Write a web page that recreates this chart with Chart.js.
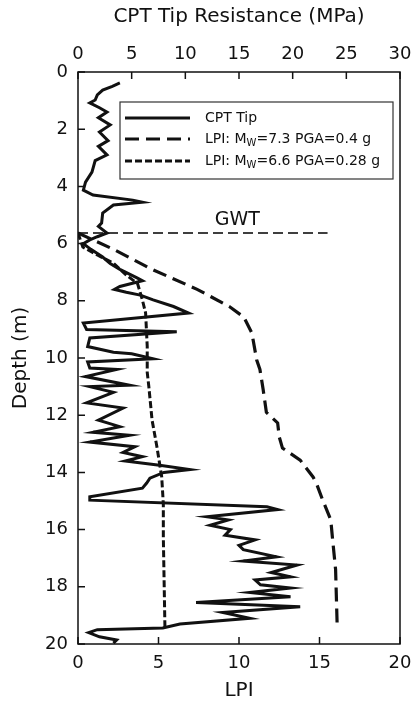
<!DOCTYPE html>
<html>
<head>
<meta charset="utf-8">
<script src="https://cdn.jsdelivr.net/npm/chart.js@4.4.1/dist/chart.umd.min.js"></script>
<style>
  html, body { margin: 0; padding: 0; background: #fff; }
  #wrap { width: 412px; height: 708px; }
</style>
</head>
<body>
<div id="wrap"><canvas id="cptChart"></canvas></div>
<script>
// CPT sounding: depth (m) vs tip resistance (MPa), in trace order
const cptDepth = [0.38, 0.5, 0.63, 0.8, 0.98, 1.08, 1.25, 1.4, 1.6, 1.85, 2.1, 2.4, 2.6, 2.9, 3.1, 3.5, 3.85, 4.13,
  4.3, 4.48, 4.55, 4.65, 4.93, 5.28, 5.4, 5.63, 5.76, 5.87, 6.0, 6.2, 6.47, 6.7, 6.9, 7.2, 7.3, 7.5, 7.6, 7.7, 7.8,
  7.97, 8.2, 8.43, 8.78, 9.0, 9.08, 9.3, 9.6, 9.8, 9.85, 10.03, 10.14, 10.35, 10.4, 10.65, 10.95, 11.0, 11.2, 11.57,
  11.75, 12.17, 12.4, 12.6, 12.7, 12.94, 13.1, 13.3, 13.45, 13.6, 13.75, 13.9, 14.0, 14.2, 14.37, 14.55, 14.85, 14.97,
  15.2, 15.3, 15.55, 15.66, 15.85, 16.0, 16.2, 16.36, 16.55, 16.7, 16.95, 17.1, 17.24, 17.5, 17.65, 17.76, 17.93,
  18.04, 18.2, 18.35, 18.55, 18.7, 18.9, 19.1, 19.3, 19.44, 19.5, 19.6, 19.75, 19.86, 19.97];
const cptTip = [3.9, 3.2, 2.3, 1.8, 1.6, 1.1, 2.0, 2.7, 1.9, 3.0, 2.0, 2.8, 1.9, 2.7, 1.6, 1.3, 0.7, 0.5,
  1.4, 5.1, 6.0, 3.3, 2.3, 2.2, 1.9, 2.7, 1.8, 1.1, 0.5, 1.2, 2.3, 3.0, 3.9, 5.5, 6.0, 3.9, 3.4, 4.5, 5.8,
  7.0, 8.9, 10.3, 0.5, 0.8, 9.2, 1.1, 0.9, 3.3, 5.0, 7.0, 0.9, 1.1, 3.6, 0.7, 4.8, 1.1, 3.3, 0.8,
  4.2, 1.9, 3.9, 1.4, 4.8, 1.1, 5.3, 4.2, 6.0, 4.4, 7.6, 10.4, 8.0, 6.7, 6.4, 6.0, 1.1, 1.1,
  17.6, 18.6, 12.0, 14.0, 12.3, 14.2, 13.7, 16.5, 15.0, 15.4, 18.5, 15.4, 20.4, 18.0, 19.8, 16.5, 17.0,
  19.8, 16.0, 19.8, 11.0, 20.7, 13.5, 16.0, 9.5, 7.9, 1.8, 1.0, 2.0, 3.6, 3.3];

// LPI profile, Mw 7.3, PGA 0.4 g
const lpiDepthA = [5.63, 6.2, 6.9, 7.6, 8.2, 8.57, 9.13, 10.07, 10.4, 11.1, 11.9, 12.27, 12.76, 13.15, 13.57,
  14.16, 14.37, 14.97, 15.66, 16.26, 17.4, 19.4];
const lpiA = [0, 2.2, 4.6, 7.4, 9.4, 10.3, 10.8, 11.1, 11.3, 11.5, 11.7, 12.4, 12.5, 12.7, 13.8,
  14.6, 14.8, 15.2, 15.7, 15.8, 16.0, 16.1];

// LPI profile, Mw 6.6, PGA 0.28 g
const lpiDepthB = [5.63, 6.12, 6.4, 6.68, 7.1, 7.4, 7.97, 8.43, 9.6, 10.5, 11.0, 12.17, 13.1, 13.45, 14.16, 15.1, 16.26, 19.44];
const lpiB = [0, 0.3, 1.2, 2.2, 3.0, 3.7, 4.0, 4.2, 4.3, 4.3, 4.4, 4.6, 4.9, 5.0, 5.2, 5.3, 5.3, 5.4];

// ground water table
const gwtDepth = 5.63;
const gwtSpan = [0, 15.5];

const legendLabels = [
  ['CPT Tip'],
  ['LPI: M', 'W', '=7.3 PGA=0.4 g'],
  ['LPI: M', 'W', '=6.6 PGA=0.28 g']
];

const FONT = '"DejaVu Sans", "Liberation Sans", Arial, sans-serif';
const INK = '#111';

const pts = (xs, ys) => xs.map((x, i) => ({ x: x, y: ys[i] }));

const lineStyles = [
  { width: 3, dash: [] },
  { width: 3.2, dash: [14, 7] },
  { width: 3, dash: [7, 3] }
];

// frame, inward ticks, legend and GWT label
const decorPlugin = {
  id: 'decor',
  afterDatasetsDraw(chart) {
    const { ctx, chartArea: a, scales } = chart;
    ctx.save();
    ctx.strokeStyle = INK;
    ctx.lineWidth = 1.5;
    ctx.setLineDash([]);
    ctx.strokeRect(a.left, a.top, a.right - a.left, a.bottom - a.top);

    const len = 7;
    ctx.beginPath();
    scales.x.ticks.forEach(t => {
      const px = scales.x.getPixelForValue(t.value);
      ctx.moveTo(px, a.bottom); ctx.lineTo(px, a.bottom - len);
    });
    scales.x2.ticks.forEach(t => {
      const px = scales.x2.getPixelForValue(t.value);
      ctx.moveTo(px, a.top); ctx.lineTo(px, a.top + len);
    });
    scales.y.ticks.forEach(t => {
      const py = scales.y.getPixelForValue(t.value);
      ctx.moveTo(a.left, py); ctx.lineTo(a.left + len, py);
    });
    ctx.stroke();

    // GWT label
    ctx.fillStyle = INK;
    ctx.font = '19px ' + FONT;
    ctx.textAlign = 'center';
    ctx.textBaseline = 'middle';
    ctx.fillText('GWT', scales.x.getPixelForValue(9.9), scales.y.getPixelForValue(5.17));

    // legend box
    const bx = a.left + 42, by = a.top + 30, bw = 273, bh = 77;
    ctx.fillStyle = '#fff';
    ctx.fillRect(bx, by, bw, bh);
    ctx.lineWidth = 1.2;
    ctx.strokeStyle = '#333';
    ctx.strokeRect(bx, by, bw, bh);

    const rows = [by + 16, by + 37, by + 59];
    legendLabels.forEach((parts, i) => {
      const y = rows[i];
      const st = lineStyles[i];
      ctx.strokeStyle = INK;
      ctx.lineWidth = st.width;
      ctx.setLineDash(st.dash);
      ctx.beginPath();
      ctx.moveTo(bx + 5, y); ctx.lineTo(bx + 70, y);
      ctx.stroke();
      ctx.setLineDash([]);

      ctx.fillStyle = INK;
      ctx.textAlign = 'left';
      ctx.textBaseline = 'middle';
      let x = bx + 85;
      parts.forEach((p, j) => {
        const sub = j === 1;
        ctx.font = (sub ? '10px ' : '14px ') + FONT;
        ctx.fillText(p, x, y + (sub ? 4 : 0));
        x += ctx.measureText(p).width;
      });
    });
    ctx.restore();
  }
};

const tickFont = { family: FONT, size: 18 };
const titleFont = { family: FONT, size: 20 };

new Chart(document.getElementById('cptChart'), {
  type: 'scatter',
  data: {
    datasets: [
      {
        label: 'CPT Tip',
        data: pts(cptTip, cptDepth),
        xAxisID: 'x2',
        showLine: true,
        borderColor: INK,
        borderWidth: lineStyles[0].width,
        pointRadius: 0,
        tension: 0
      },
      {
        label: 'LPI: Mw=7.3 PGA=0.4 g',
        data: pts(lpiA, lpiDepthA),
        xAxisID: 'x',
        showLine: true,
        borderColor: INK,
        borderWidth: lineStyles[1].width,
        borderDash: lineStyles[1].dash,
        pointRadius: 0
      },
      {
        label: 'LPI: Mw=6.6 PGA=0.28 g',
        data: pts(lpiB, lpiDepthB),
        xAxisID: 'x',
        showLine: true,
        borderColor: INK,
        borderWidth: lineStyles[2].width,
        borderDash: lineStyles[2].dash,
        pointRadius: 0
      },
      {
        label: 'GWT',
        data: gwtSpan.map(v => ({ x: v, y: gwtDepth })),
        xAxisID: 'x',
        showLine: true,
        borderColor: '#000',
        borderWidth: 1.6,
        borderDash: [10, 5],
        pointRadius: 0
      }
    ]
  },
  options: {
    responsive: true,
    maintainAspectRatio: false,
    animation: false,
    layout: { padding: { left: 0, right: 0, top: 0, bottom: 0 } },
    plugins: { legend: { display: false }, tooltip: { enabled: false } },
    scales: {
      x: {
        type: 'linear', position: 'bottom', min: 0, max: 20,
        ticks: { stepSize: 5, color: INK, font: tickFont, padding: 9, maxRotation: 0 },
        grid: { display: false, drawTicks: false },
        border: { display: false },
        title: { display: true, text: 'LPI', color: INK, font: titleFont, padding: { top: 0, bottom: 5 } },
        afterFit: s => { s.height = 64; s.paddingRight = 12; }
      },
      x2: {
        type: 'linear', position: 'top', min: 0, max: 30,
        ticks: { stepSize: 5, color: INK, font: tickFont, padding: 7, maxRotation: 0 },
        grid: { display: false, drawTicks: false },
        border: { display: false },
        title: { display: true, text: 'CPT Tip Resistance (MPa)', color: INK, font: titleFont, padding: { top: 5, bottom: 0 } },
        afterFit: s => { s.height = 72; s.paddingRight = 12; }
      },
      y: {
        type: 'linear', reverse: true, min: 0, max: 20,
        ticks: { stepSize: 2, color: INK, font: tickFont, padding: 10 },
        grid: { display: false, drawTicks: false },
        border: { display: false },
        title: { display: true, text: 'Depth (m)', color: INK, font: titleFont, padding: { top: 9, bottom: 0 } },
        afterFit: s => { s.width = 78; }
      }
    }
  },
  plugins: [decorPlugin]
});
</script>
</body>
</html>
